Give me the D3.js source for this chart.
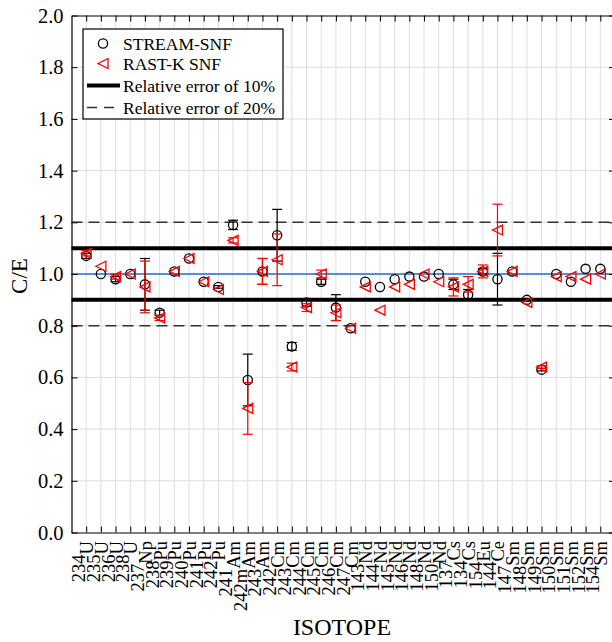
<!DOCTYPE html>
<html>
<head>
<meta charset="utf-8">
<script src="https://cdn.jsdelivr.net/npm/d3@7"></script>
<style>
  html, body { margin: 0; padding: 0; background: #fff; }
  svg { display: block; }
  text { font-family: "Liberation Serif", "Times New Roman", serif; }
</style>
</head>
<body>
<svg id="chart" width="612" height="642"></svg>
<script>
const massNumbers = ["234","235","236","238","237","238","239","240","241","242","241","242m","243","242","243","244","245","246","247","143","144","145","146","148","150","137","134","154","144","147","148","149","150","151","152","154"];
const elements = ["U","U","U","U","Np","Pu","Pu","Pu","Pu","Pu","Am","Am","Am","Cm","Cm","Cm","Cm","Cm","Cm","Nd","Nd","Nd","Nd","Nd","Nd","Cs","Cs","Eu","Ce","Sm","Sm","Sm","Sm","Sm","Sm","Sm"];
const categories = massNumbers.map((m, i) => m + elements[i]);

const streamValues = [1.07,1.00,0.98,1.00,0.96,0.85,1.01,1.06,0.97,0.95,1.19,0.59,1.01,1.15,0.72,0.89,0.97,0.87,0.79,0.97,0.95,0.98,0.99,0.99,1.00,0.96,0.92,1.01,0.98,1.01,0.90,0.63,1.00,0.97,1.02,1.02];
const streamErrors = [0.01,0,0.01,0,0.10,0.01,0,0,0,0.005,0.018,0.10,0.05,0.10,0.015,0.015,0.01,0.05,0,0,0,0,0,0,0,0.02,0.02,0.01,0.10,0,0.005,0.005,0,0,0,0];
const rastValues = [1.08,1.03,0.99,1.00,0.95,0.83,1.01,1.06,0.97,0.94,1.13,0.48,1.01,1.055,0.64,0.87,1.00,0.85,0.79,0.95,0.86,0.95,0.96,1.00,0.97,0.95,0.96,1.01,1.17,1.01,0.89,0.64,0.99,0.99,0.98,1.00];
const rastErrors = [0.01,0,0.01,0,0.10,0.01,0,0,0,0,0.01,0.10,0.05,0.10,0.015,0.015,0.015,0.03,0,0,0,0,0,0,0,0.035,0.03,0.025,0.10,0,0,0.005,0,0,0,0];

const yTicks = [0,0.2,0.4,0.6,0.8,1.0,1.2,1.4,1.6,1.8,2.0];
const refLines = [
  {value: 1.1, type: "solid10"}, {value: 0.9, type: "solid10"},
  {value: 1.2, type: "dash20"}, {value: 0.8, type: "dash20"}
];
const legendItems = ["STREAM-SNF", "RAST-K SNF", "Relative error of 10%", "Relative error of 20%"];

const svg = d3.select("#chart");
const L = 71.5, R = 615, T = 15.5, B = 532.5;

const x = d3.scalePoint().domain(categories).range([L, R]).padding(1);
const y = d3.scaleLinear().domain([0, 2]).range([B, T]);

// grid
const grid = svg.append("g");
grid.selectAll(".vg").data(categories).join("line")
  .attr("x1", d => x(d)).attr("x2", d => x(d)).attr("y1", T).attr("y2", B)
  .attr("stroke", "#dedede").attr("stroke-width", 1);
grid.selectAll(".hg").data(yTicks.slice(1, -1)).join("line")
  .attr("x1", L).attr("x2", R).attr("y1", d => y(d)).attr("y2", d => y(d))
  .attr("stroke", "#dedede").attr("stroke-width", 1);

// reference lines
svg.append("line").attr("x1", L).attr("x2", R).attr("y1", y(1)).attr("y2", y(1))
  .attr("stroke", "#1f6fd6").attr("stroke-width", 1.5);
svg.selectAll(".ref").data(refLines).join("line")
  .attr("x1", L).attr("x2", R).attr("y1", d => y(d.value)).attr("y2", d => y(d.value))
  .attr("stroke", d => d.type === "solid10" ? "#000" : "#333")
  .attr("stroke-width", d => d.type === "solid10" ? 4 : 1.4)
  .attr("stroke-dasharray", d => d.type === "solid10" ? null : "11,6");

// axes
const axB = d3.axisBottom(x).tickSizeInner(-6).tickSizeOuter(0).tickFormat("");
const axT = d3.axisTop(x).tickSizeInner(-6).tickSizeOuter(0).tickFormat("");
const axL = d3.axisLeft(y).tickValues(yTicks).tickSizeInner(-6).tickSizeOuter(0).tickFormat(d3.format(".1f"));
const axR = d3.axisRight(y).tickValues(yTicks).tickSizeInner(-6).tickSizeOuter(0).tickFormat("");
function styleAxis(g) {
  g.select(".domain").attr("stroke", "#000").attr("stroke-width", 1.2);
  g.selectAll(".tick line").attr("stroke", "#000").attr("stroke-width", 1);
}
svg.append("g").attr("transform", `translate(0,${B})`).call(axB).call(styleAxis);
svg.append("g").attr("transform", `translate(0,${T})`).call(axT).call(styleAxis);
svg.append("g").attr("transform", `translate(${R},0)`).call(axR).call(styleAxis);
const gl = svg.append("g").attr("transform", `translate(${L},0)`).call(axL).call(styleAxis);
gl.selectAll(".tick text").attr("font-size", 20.5).attr("fill", "#000").attr("x", -8)
  .attr("font-family", "Liberation Serif, serif");

// x labels (mass number raised)
const xl = svg.append("g");
categories.forEach((c, i) => {
  const t = xl.append("text")
    .attr("transform", `translate(${x(c) + 7},${541}) rotate(-90)`)
    .attr("text-anchor", "end").attr("font-size", 18.5).attr("fill", "#000");
  t.append("tspan").attr("dy", -8).text(massNumbers[i]);
  t.append("tspan").attr("dy", 8).text(elements[i]);
});

// axis titles
svg.append("text").attr("transform", `translate(27,276) rotate(-90)`)
  .attr("text-anchor", "middle").attr("font-size", 23).text("C/E");
svg.append("text").attr("x", 342).attr("y", 635).attr("text-anchor", "middle")
  .attr("font-size", 24).text("ISOTOPE");

// series
const stream = categories.map((c, i) => ({c, v: streamValues[i], e: streamErrors[i]}));
const rast = categories.map((c, i) => ({c, v: rastValues[i], e: rastErrors[i]}));

function drawErr(data, color) {
  const g = svg.append("g").attr("stroke", color).attr("stroke-width", 1.2);
  const d2 = data.filter(d => d.e > 0);
  g.selectAll(".v").data(d2).join("line")
    .attr("x1", d => x(d.c)).attr("x2", d => x(d.c))
    .attr("y1", d => y(d.v + d.e)).attr("y2", d => y(d.v - d.e));
  g.selectAll(".ct").data(d2).join("line")
    .attr("x1", d => x(d.c) - 5).attr("x2", d => x(d.c) + 5)
    .attr("y1", d => y(d.v + d.e)).attr("y2", d => y(d.v + d.e));
  g.selectAll(".cb").data(d2).join("line")
    .attr("x1", d => x(d.c) - 5).attr("x2", d => x(d.c) + 5)
    .attr("y1", d => y(d.v - d.e)).attr("y2", d => y(d.v - d.e));
}
drawErr(stream, "#000");
svg.append("g").selectAll("circle").data(stream).join("circle")
  .attr("cx", d => x(d.c)).attr("cy", d => y(d.v)).attr("r", 4.6)
  .attr("fill", "none").attr("stroke", "#000").attr("stroke-width", 1.3);

drawErr(rast, "#ff0000");
const tri = "M-5,0L5,-5L5,5Z";
svg.append("g").selectAll("path").data(rast).join("path")
  .attr("transform", d => `translate(${x(d.c)},${y(d.v)})`)
  .attr("d", tri).attr("fill", "none").attr("stroke", "#ff0000").attr("stroke-width", 1.3);

// legend
const lg = svg.append("g");
lg.append("rect").attr("x", 83).attr("y", 29).attr("width", 200).attr("height", 90)
  .attr("fill", "#fff").attr("stroke", "#000").attr("stroke-width", 1.2);
const rows = [43.5, 63.5, 85.5, 107.5];
lg.append("circle").attr("cx", 103).attr("cy", rows[0]).attr("r", 4.6)
  .attr("fill", "none").attr("stroke", "#000").attr("stroke-width", 1.3);
lg.append("path").attr("transform", `translate(103,${rows[1]})`).attr("d", tri)
  .attr("fill", "none").attr("stroke", "#ff0000").attr("stroke-width", 1.3);
lg.append("line").attr("x1", 87).attr("x2", 120).attr("y1", rows[2]).attr("y2", rows[2])
  .attr("stroke", "#000").attr("stroke-width", 4);
lg.append("line").attr("x1", 87).attr("x2", 120).attr("y1", rows[3]).attr("y2", rows[3])
  .attr("stroke", "#333").attr("stroke-width", 1.4).attr("stroke-dasharray", "10,7");
lg.selectAll("text.lt").data(legendItems).join("text")
  .attr("x", 123).attr("y", (d, i) => rows[i]).attr("dy", "0.35em")
  .attr("font-size", 17.5).attr("fill", "#000").text(d => d);
</script>
</body>
</html>
